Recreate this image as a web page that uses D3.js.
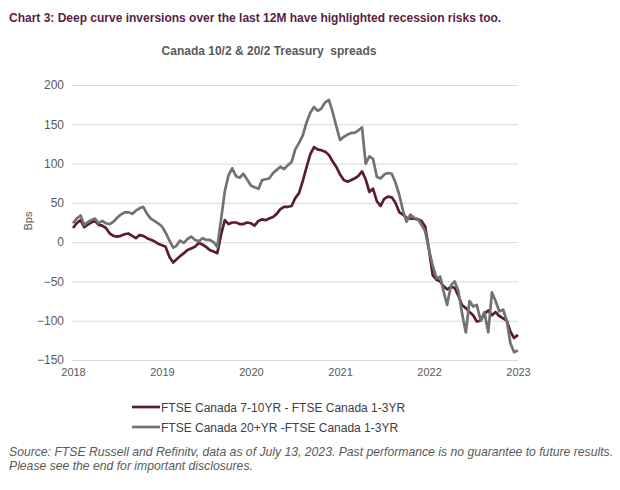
<!DOCTYPE html>
<html>
<head>
<meta charset="utf-8">
<script src="https://cdn.jsdelivr.net/npm/d3@7"></script>
<style>
  body { margin: 0; background: #fff; }
  text { font-family: "Liberation Sans", Arial, sans-serif; }
</style>
</head>
<body>
<svg id="chart"></svg>
<script>
// Valeurs (points bimensuels, janv. 2018 -> janv. 2023)
const spread710 = [18, 24, 28, 19, 22, 25, 27, 22, 21, 18, 11, 8, 7, 8, 10, 11, 8, 5, 9, 8,
  5, 3, 1, -2, -4, -6, -19, -26, -22, -18, -14, -10, -8, -6, -1, -3, -6, -10, -12, -14,
  10, 28, 23, 25, 25, 23, 23, 25, 24, 21, 27, 29, 28, 30, 32, 36, 42, 45, 45, 46,
  56, 62, 78, 95, 112, 121, 118, 117, 115, 111, 103, 96, 86, 79, 77, 79, 81, 84, 90, 80,
  64, 68, 52, 46, 55, 58, 57, 50, 38, 35, 31, 30, 30, 29, 27, 20, -10, -42, -48, -50,
  -56, -60, -57, -58, -68, -80, -84, -89, -93, -101, -100, -91, -87, -93, -89, -94, -97, -100, -114, -122, -118];

const spread20 = [24, 30, 34, 22, 25, 28, 30, 24, 27, 24, 23, 26, 31, 35, 38, 38, 36, 40, 43, 45,
  36, 30, 27, 24, 20, 12, 2, -7, -5, 2, -1, 4, 7, 3, 1, 5, 3, 3, 0, -6,
  30, 65, 85, 94, 84, 82, 87, 80, 72, 70, 68, 79, 80, 81, 88, 92, 96, 93, 98, 102,
  118, 126, 136, 152, 165, 172, 167, 170, 178, 181, 166, 148, 130, 134, 137, 139, 139, 142, 146, 100,
  109, 106, 83, 81, 86, 88, 87, 76, 60, 40, 26, 35, 31, 29, 22, 14, -10, -30, -46, -44,
  -62, -80, -55, -50, -62, -90, -115, -75, -82, -80, -100, -89, -115, -64, -75, -88, -86, -100, -129, -140, -138];

const yTicks = [-150, -100, -50, 0, 50, 100, 150, 200];
const years = [2018, 2019, 2020, 2021, 2022, 2023];
const seriesNames = ["FTSE Canada 7-10YR - FTSE Canada 1-3YR", "FTSE Canada 20+YR -FTSE Canada 1-3YR"];
const colors = ["#5a1a3a", "#727272"];

// Dates des points : 1er et 16 de chaque mois
const dates = spread710.map((_, i) => new Date(2018, Math.floor(i / 2), i % 2 ? 16 : 1));

const width = 620, height = 490;
const svg = d3.select("#chart").attr("width", width).attr("height", height);

const x = d3.scaleTime()
  .domain([new Date(2018, 0, 1), new Date(2023, 0, 1)])
  .range([73, 518]);
const y = d3.scaleLinear().domain([-150, 200]).range([360, 85]);

// Titres
svg.append("text")
  .attr("x", 9).attr("y", 21.5)
  .attr("font-size", 12).attr("font-weight", "bold")
  .attr("fill", "#5a1e43")
  .text("Chart 3: Deep curve inversions over the last 12M have highlighted recession risks too.");

svg.append("text")
  .attr("x", 269).attr("y", 54.5)
  .attr("text-anchor", "middle")
  .attr("font-size", 12).attr("font-weight", "bold")
  .attr("fill", "#595959")
  .style("white-space", "pre")
  .text("Canada 10/2 & 20/2 Treasury  spreads");

// Grille horizontale
svg.append("g")
  .call(d3.axisLeft(y).tickValues(yTicks).tickSize(0).tickPadding(0))
  .call(g => g.select(".domain").remove())
  .call(g => g.selectAll(".tick text").remove())
  .call(g => g.selectAll(".tick").append("line")
    .attr("x1", 72).attr("x2", 518)
    .attr("stroke", "#d9d9d9").attr("stroke-width", 1));

// Axe Y
svg.append("g")
  .attr("transform", "translate(64,0)")
  .call(d3.axisLeft(y).tickValues(yTicks).tickSize(0).tickPadding(0))
  .call(g => g.select(".domain").remove())
  .call(g => g.selectAll(".tick text")
    .attr("font-size", 12).attr("fill", "#595959")
    .attr("font-family", "Liberation Sans, Arial, sans-serif"));

svg.append("text")
  .attr("transform", "translate(32,221) rotate(-90)")
  .attr("text-anchor", "middle")
  .attr("font-size", 11).attr("fill", "#595959")
  .text("Bps");

// Axe X
svg.append("g")
  .attr("transform", "translate(0,364)")
  .call(d3.axisBottom(x)
    .tickValues(years.map(yr => new Date(yr, 0, 1)))
    .tickFormat(d3.timeFormat("%Y"))
    .tickSize(0).tickPadding(4))
  .call(g => g.select(".domain").remove())
  .call(g => g.selectAll(".tick text")
    .attr("font-size", 11).attr("fill", "#595959")
    .attr("font-family", "Liberation Sans, Arial, sans-serif"));

// Courbes (la grise par-dessus)
const line = d3.line().x((d, i) => x(dates[i])).y(d => y(d));
[spread710, spread20].forEach((s, k) => {
  svg.append("path")
    .datum(s)
    .attr("d", line)
    .attr("fill", "none")
    .attr("stroke", colors[k])
    .attr("stroke-width", 2.7)
    .attr("stroke-linejoin", "round");
});

// Légende
const legend = svg.append("g");
seriesNames.forEach((name, k) => {
  const ly = 407 + k * 20;
  legend.append("line")
    .attr("x1", 132).attr("x2", 160).attr("y1", ly).attr("y2", ly)
    .attr("stroke", colors[k]).attr("stroke-width", 2.7);
  legend.append("text")
    .attr("x", 161).attr("y", ly + 4.5)
    .attr("font-size", 12).attr("fill", "#404040")
    .text(name);
});

// Source
const source = ["Source: FTSE Russell and Refinitv, data as of July 13, 2023. Past performance is no guarantee to future results.",
  "Please see the end for important disclosures."];
source.forEach((t, k) => {
  svg.append("text")
    .attr("x", 9).attr("y", 455.5 + k * 14)
    .attr("font-size", 12.2).attr("font-style", "italic")
    .attr("fill", "#595959")
    .text(t);
});
</script>
</body>
</html>
